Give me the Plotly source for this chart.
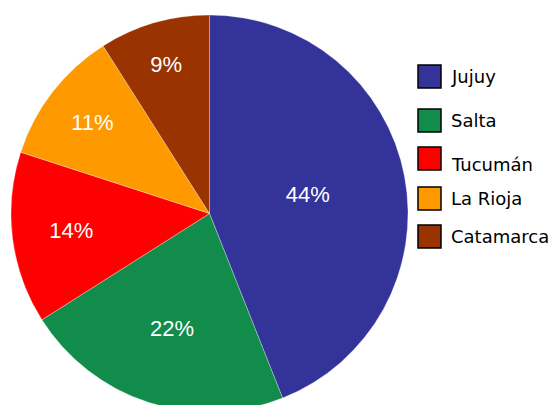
import plotly.graph_objects as go

labels = ["Jujuy", "Salta", "Tucumán", "La Rioja", "Catamarca"]
values = [44, 22, 14, 11, 9]
colors = ["#333399", "#118C4A", "#FF0000", "#FF9900", "#993300"]

W, H = 556, 412

fig = go.Figure(go.Pie(
    labels=labels,
    values=values,
    sort=False,
    direction="clockwise",
    rotation=0,
    marker=dict(colors=colors, line=dict(color="rgba(255,255,255,0.5)", width=0.6)),
    textinfo="percent",
    texttemplate="%{percent:.0%}",
    textposition="inside",
    insidetextorientation="horizontal",
    textfont=dict(family="Liberation Sans, Arial, sans-serif", size=22, color="white"),
    domain=dict(x=[11 / W, 408 / W], y=[0, (H - 15) / H]),
    showlegend=False,
    hoverinfo="label+percent",
))

# custom legend (swatches + labels) built from the label/color lists
legend_top = [65, 109, 147, 187, 225]
text_dy = [0, 0, 6, 0, 0]
box = 23
for lab, col, top, dy in zip(labels, colors, legend_top, text_dy):
    fig.add_shape(type="rect", xref="paper", yref="paper",
                  x0=418 / W, x1=(418 + box) / W,
                  y0=1 - (top + box) / H, y1=1 - top / H,
                  fillcolor=col, line=dict(color="black", width=1.5))
    fig.add_annotation(xref="paper", yref="paper", x=449 / W,
                       y=1 - (top + box / 2 + dy) / H, text=lab, showarrow=False,
                       xanchor="left", yanchor="middle",
                       font=dict(family="DejaVu Sans", size=18, color="black"))

fig.update_layout(
    width=W, height=H,
    margin=dict(l=0, r=0, t=0, b=0),
    paper_bgcolor="white",
    plot_bgcolor="white",
)

fig.write_html(
    "out.html",
    config={"displayModeBar": False},
    post_script="document.body.style.margin='0';document.body.style.overflow='hidden';",
)
